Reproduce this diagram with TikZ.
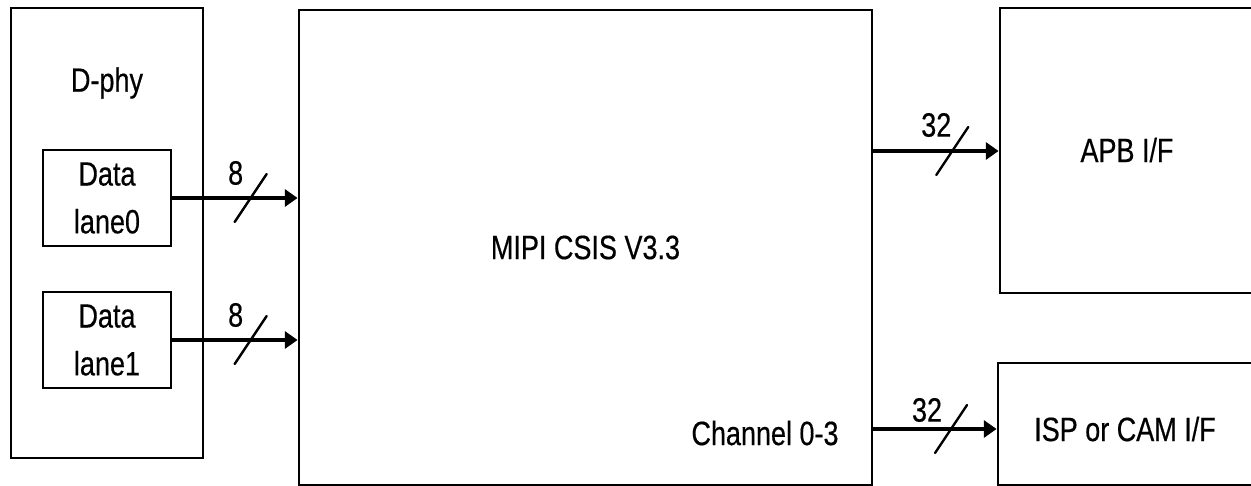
\documentclass[tikz,border=0pt]{standalone}
\usepackage{fontspec}
\setmainfont[FakeStretch=0.8,FakeBold=0.4]{Liberation Sans}
\usetikzlibrary{arrows.meta,calc}
\tikzset{
  blk/.style={draw, line width=2pt, inner sep=0pt, font=\fontsize{24}{34}\selectfont, align=center},
  bus/.style={-{Triangle[length=9pt,width=12pt]}, line width=2.2pt},
  slash/.style={line width=1.7pt, line cap=round},
  txt/.style={font=\fontsize{24}{34}\selectfont, align=center, inner sep=0pt},
}

\begin{document}
\begin{tikzpicture}[x=0.025cm, y=-0.025cm]
  \useasboundingbox (0,0) rectangle (1251,486);

  % D-phy block with its two lanes
  \node[blk, minimum width=192*0.025cm, minimum height=450*0.025cm] (dphy) at (107,233) {};
  \node[txt] (dphytxt) at (107,83) {D-phy};
  \node[blk, minimum width=128*0.025cm, minimum height=96*0.025cm] (lane0) at (107,198) {Data\\lane0};
  \node[blk, minimum width=128*0.025cm, minimum height=96*0.025cm] (lane1) at (107,340) {Data\\lane1};

  % Controller
  \node[blk, minimum width=573*0.025cm, minimum height=475*0.025cm] (mipi) at (585.5,247.5) {MIPI CSIS V3.3};
  \node[txt] (chan) at (765,433) {Channel 0-3};

  % Outputs (cut by the right edge)
  \node[blk, minimum width=262*0.025cm, minimum height=285*0.025cm] (apb) at (1131,150.5) {};
  \node[txt] (apbtxt) at (1127,150) {APB I/F};
  \node[blk, minimum width=264*0.025cm, minimum height=122*0.025cm] (isp) at (1130,424) {};
  \node[txt] (isptxt) at (1125,429) {ISP or CAM I/F};

  % Lane buses
  \draw[bus] (lane0.east) -- (lane0.east -| mipi.west) coordinate[pos=0.625] (s0);
  \draw[slash] ($(s0)+(-16,24)$) -- ($(s0)+(16,-24)$);
  \node[txt] (w0) at ($(s0)+(-15,-25)$) {8};

  \draw[bus] (lane1.east) -- (lane1.east -| mipi.west) coordinate[pos=0.625] (s1);
  \draw[slash] ($(s1)+(-16,24)$) -- ($(s1)+(16,-24)$);
  \node[txt] (w1) at ($(s1)+(-15,-25)$) {8};

  % Output buses
  \coordinate (apbin) at (apb.west |- 0,151);
  \draw[bus] (apbin -| mipi.east) -- (apbin) coordinate[pos=0.63] (s2);
  \draw[slash] ($(s2)+(-16,24)$) -- ($(s2)+(16,-24)$);
  \node[txt] (w2) at ($(s2)+(-16,-26)$) {32};

  \coordinate (ispin) at (isp.west |- 0,429);
  \draw[bus] (ispin -| mipi.east) -- (ispin) coordinate[pos=0.63] (s3);
  \draw[slash] ($(s3)+(-16,24)$) -- ($(s3)+(16,-24)$);
  \node[txt] (w3) at ($(s3)+(-24,-19)$) {32};
\end{tikzpicture}
\end{document}
